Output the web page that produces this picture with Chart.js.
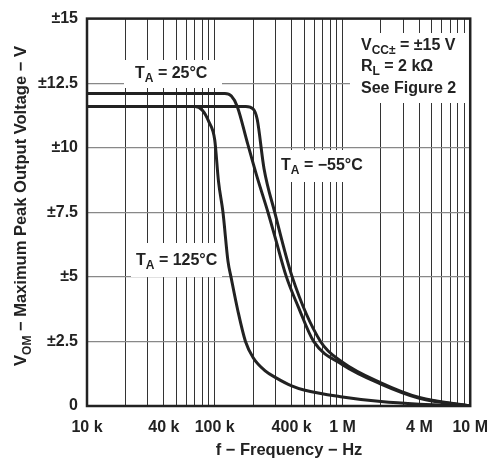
<!DOCTYPE html>
<html>
<head>
<meta charset="utf-8">
<script src="https://cdn.jsdelivr.net/npm/chart.js@4.4.1/dist/chart.umd.min.js"></script>
<style>
  body { margin: 0; background: #fff; }
  #wrap { width: 500px; height: 460px; }
</style>
</head>
<body>
<div id="wrap"><canvas id="myChart" width="500" height="460"></canvas></div>
<script>
// values (frequency in Hz, voltage in V)
const freq25 = [1e4, 1.2e5, 1.35e5, 1.5e5, 1.8e5, 2.15e5, 2.61e5, 3e5, 3.64e5, 4.5e5, 5.95e5, 1e6, 2e6, 4e6, 1e7];
const volt25 = [12.1, 12.1, 12.0, 11.6, 10.2, 8.85, 7.5, 6.45, 5.0, 3.85, 2.5, 1.6, 0.85, 0.3, 0];

const freqM55 = [1e4, 1.75e5, 2e5, 2.15e5, 2.43e5, 2.95e5, 4.04e5, 6.73e5, 1e6, 2e6, 4e6, 1e7];
const voltM55 = [11.6, 11.6, 11.5, 11.1, 9.2, 7.5, 5.0, 2.5, 1.7, 0.9, 0.33, 0];

const freq125 = [1e4, 7e4, 8e4, 9e4, 1e5, 1.07e5, 1.16e5, 1.27e5, 1.34e5, 1.52e5, 1.74e5, 2e5, 2.5e5, 3e5, 4e5, 5e5, 1e6, 2e6, 4e6, 1e7];
const volt125 = [11.6, 11.6, 11.45, 11.0, 10.3, 8.7, 7.5, 5.6, 5.0, 3.67, 2.5, 1.87, 1.35, 1.1, 0.78, 0.62, 0.35, 0.17, 0.07, 0];

const xLabels = {1e4: '10 k', 4e4: '40 k', 1e5: '100 k', 4e5: '400 k', 1e6: '1 M', 4e6: '4 M', 1e7: '10 M'};
const yTicks = [0, 2.5, 5, 7.5, 10, 12.5, 15];

const FONT = '"Liberation Sans", Arial, sans-serif';

function pts(xs, ys) {
    return xs.map((x, i) => ({x: x, y: ys[i]}));
}

function curve(label, xs, ys) {
    return {
        label: label,
        data: pts(xs, ys),
        borderColor: '#222',
        borderWidth: 3,
        pointRadius: 0,
        fill: false,
        cubicInterpolationMode: 'monotone'
    };
}

// text with a subscript part: [[text, isSub], ...]
function drawRich(ctx, parts, x, y, size) {
    let cx = x;
    parts.forEach(p => {
        if (p[1]) {
            ctx.font = 'bold ' + Math.round(size * 0.72) + 'px ' + FONT;
            ctx.fillText(p[0], cx, y + size * 0.28);
        } else {
            ctx.font = 'bold ' + size + 'px ' + FONT;
            ctx.fillText(p[0], cx, y);
        }
        cx += ctx.measureText(p[0]).width;
    });
    return cx - x;
}

function richWidth(ctx, parts, size) {
    let w = 0;
    parts.forEach(p => {
        ctx.font = 'bold ' + (p[1] ? Math.round(size * 0.72) : size) + 'px ' + FONT;
        w += ctx.measureText(p[0]).width;
    });
    return w;
}

const notes = {
    id: 'notes',
    beforeDatasetsDraw(chart) {
        const ctx = chart.ctx;
        ctx.save();
        ctx.fillStyle = '#fff';
        ctx.fillRect(124, 60, 98, 28);
        ctx.fillRect(350, 33, 123, 70);
        ctx.fillRect(277, 150, 90, 32);
        ctx.fillRect(131, 243, 91, 34);

        ctx.fillStyle = '#222';
        ctx.textBaseline = 'alphabetic';
        ctx.textAlign = 'left';
        drawRich(ctx, [['T', 0], ['A', 1], [' = 25°C', 0]], 135, 78, 16);
        drawRich(ctx, [['T', 0], ['A', 1], [' = −55°C', 0]], 281, 170, 16);
        drawRich(ctx, [['T', 0], ['A', 1], [' = 125°C', 0]], 136, 265, 16);
        drawRich(ctx, [['V', 0], ['CC±', 1], [' = ±15 V', 0]], 361, 50, 16);
        drawRich(ctx, [['R', 0], ['L', 1], [' = 2 kΩ', 0]], 361, 71, 16);
        drawRich(ctx, [['See Figure 2', 0]], 361, 93, 16);
        ctx.restore();
    },
    afterDraw(chart) {
        const ctx = chart.ctx;
        const a = chart.chartArea;
        ctx.save();
        ctx.strokeStyle = '#222';
        ctx.lineWidth = 2.5;
        ctx.strokeRect(a.left, a.top, a.right - a.left, a.bottom - a.top);

        ctx.fillStyle = '#222';
        ctx.textBaseline = 'middle';
        ctx.textAlign = 'center';
        ctx.font = 'bold 16.5px ' + FONT;
        ctx.fillText('f − Frequency − Hz', 289, 450);

        // y axis title with subscript
        ctx.textAlign = 'left';
        ctx.textBaseline = 'alphabetic';
        const parts = [['V', 0], ['OM', 1], [' − Maximum Peak Output Voltage − V', 0]];
        const w = richWidth(ctx, parts, 16.5);
        ctx.translate(26, 206);
        ctx.rotate(-Math.PI / 2);
        drawRich(ctx, parts, -w / 2, 0, 16.5);
        ctx.restore();
    }
};

const ctx = document.getElementById('myChart');

new Chart(ctx, {
    type: 'line',
    data: {
        datasets: [
            curve('TA = 25°C', freq25, volt25),
            curve('TA = −55°C', freqM55, voltM55),
            curve('TA = 125°C', freq125, volt125)
        ]
    },
    options: {
        responsive: false,
        animation: false,
        layout: {padding: {left: 0, right: 19, top: 14, bottom: 0}},
        plugins: {
            legend: {display: false},
            tooltip: {enabled: false}
        },
        scales: {
            x: {
                type: 'logarithmic',
                min: 1e4,
                max: 1e7,
                afterBuildTicks: function (scale) {
                    let t = [];
                    for (let d = 1e4; d < 1e7; d *= 10) {
                        for (let m = 1; m < 10; m++) t.push({value: m * d});
                    }
                    t.push({value: 1e7});
                    scale.ticks = t;
                },
                afterFit: function (scale) { scale.height = 54; },
                grid: {color: '#333', lineWidth: 1, drawTicks: false},
                border: {display: false},
                ticks: {
                    autoSkip: false,
                    maxRotation: 0,
                    padding: 12,
                    color: '#222',
                    font: {family: FONT, size: 16, weight: 'bold'},
                    callback: function (v) {
                        const key = Math.round(v);
                        return xLabels[key] || '';
                    }
                }
            },
            y: {
                min: 0,
                max: 15,
                afterBuildTicks: function (scale) {
                    scale.ticks = yTicks.map(v => ({value: v}));
                },
                afterFit: function (scale) { scale.width = 87; },
                grid: {color: '#888', lineWidth: 1.3, drawTicks: false},
                border: {display: false},
                ticks: {
                    padding: 9,
                    color: '#222',
                    font: {family: FONT, size: 16, weight: 'bold'},
                    callback: function (v) { return v === 0 ? '0' : '±' + v; }
                }
            }
        }
    },
    plugins: [notes]
});
</script>
</body>
</html>
